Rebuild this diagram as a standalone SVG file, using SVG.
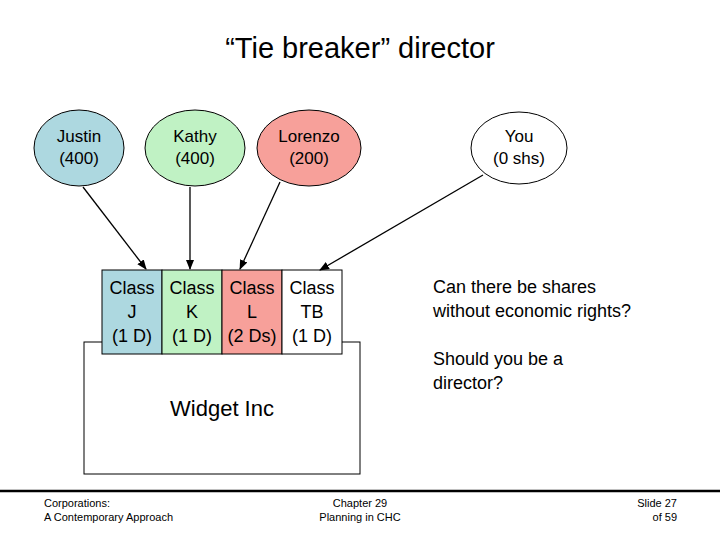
<svg xmlns="http://www.w3.org/2000/svg" width="720" height="540" viewBox="0 0 720 540">
<style>
text{font-family:"Liberation Sans",Arial,sans-serif;fill:#000}
.n{font-size:17px;text-anchor:middle}
.c{font-size:18px;text-anchor:middle}
.f{font-size:11px}
.s{stroke:#000;stroke-width:1}
</style>
<defs><marker id="a" markerWidth="10" markerHeight="8" refX="9" refY="4" orient="auto" markerUnits="userSpaceOnUse"><path d="M0,0L10,4L0,8z" fill="#000"/></marker></defs>
<rect width="720" height="540" fill="#fff"/>
<text x="360" y="58" font-size="29" text-anchor="middle">“Tie breaker” director</text>
<g id="justin"><ellipse cx="79" cy="148" rx="45" ry="38" fill="#add8e0" class="s"/><text class="n" x="79" y="142">Justin</text><text class="n" x="79" y="164">(400)</text></g>
<g id="kathy"><ellipse cx="195" cy="148" rx="50" ry="38" fill="#c0f2c4" class="s"/><text class="n" x="195" y="142">Kathy</text><text class="n" x="195" y="164">(400)</text></g>
<g id="lorenzo"><ellipse cx="309" cy="148" rx="52" ry="38" fill="#f7a09a" class="s"/><text class="n" x="309" y="142">Lorenzo</text><text class="n" x="309" y="164">(200)</text></g>
<g id="you"><ellipse cx="519" cy="148" rx="48" ry="36" fill="#fff" class="s"/><text class="n" x="519" y="142">You</text><text class="n" x="519" y="164">(0 shs)</text></g>
<g id="widget"><rect x="84" y="342" width="276" height="132" fill="#fff" class="s"/><text x="222" y="416" font-size="22" text-anchor="middle">Widget Inc</text></g>
<g id="classes">
<rect x="102" y="270" width="60" height="84" fill="#add8e0" class="s"/>
<rect x="162" y="270" width="60" height="84" fill="#c0f2c4" class="s"/>
<rect x="222" y="270" width="60" height="84" fill="#f7a09a" class="s"/>
<rect x="282" y="270" width="60" height="84" fill="#fff" class="s"/>
<text class="c" x="132" y="294">Class</text><text class="c" x="132" y="318">J</text><text class="c" x="132" y="342">(1 D)</text>
<text class="c" x="192" y="294">Class</text><text class="c" x="192" y="318">K</text><text class="c" x="192" y="342">(1 D)</text>
<text class="c" x="252" y="294">Class</text><text class="c" x="252" y="318">L</text><text class="c" x="252" y="342">(2 Ds)</text>
<text class="c" x="312" y="294">Class</text><text class="c" x="312" y="318">TB</text><text class="c" x="312" y="342">(1 D)</text>
</g>
<g id="connectors" stroke="#000" stroke-width="1.3" marker-end="url(#a)">
<line x1="83" y1="187" x2="146" y2="269"/>
<line x1="190" y1="187" x2="190" y2="269"/>
<line x1="280" y1="182" x2="240" y2="269"/>
<line x1="483" y1="175" x2="320" y2="270"/>
</g>
<g id="notes" font-size="18">
<text x="433" y="293">Can there be shares</text><text x="433" y="317">without economic rights?</text>
<text x="433" y="365">Should you be a</text><text x="433" y="389">director?</text>
</g>
<line x1="0" y1="491" x2="720" y2="491" stroke="#000" stroke-width="2.5"/>
<g id="footer" class="f">
<text class="f" x="44" y="507">Corporations:</text><text class="f" x="44" y="521">A Contemporary Approach</text>
<text class="f" x="360" y="507" text-anchor="middle">Chapter 29</text><text class="f" x="360" y="521" text-anchor="middle">Planning in CHC</text>
<text class="f" x="677" y="507" text-anchor="end">Slide 27</text><text class="f" x="677" y="521" text-anchor="end">of 59</text>
</g>
</svg>
